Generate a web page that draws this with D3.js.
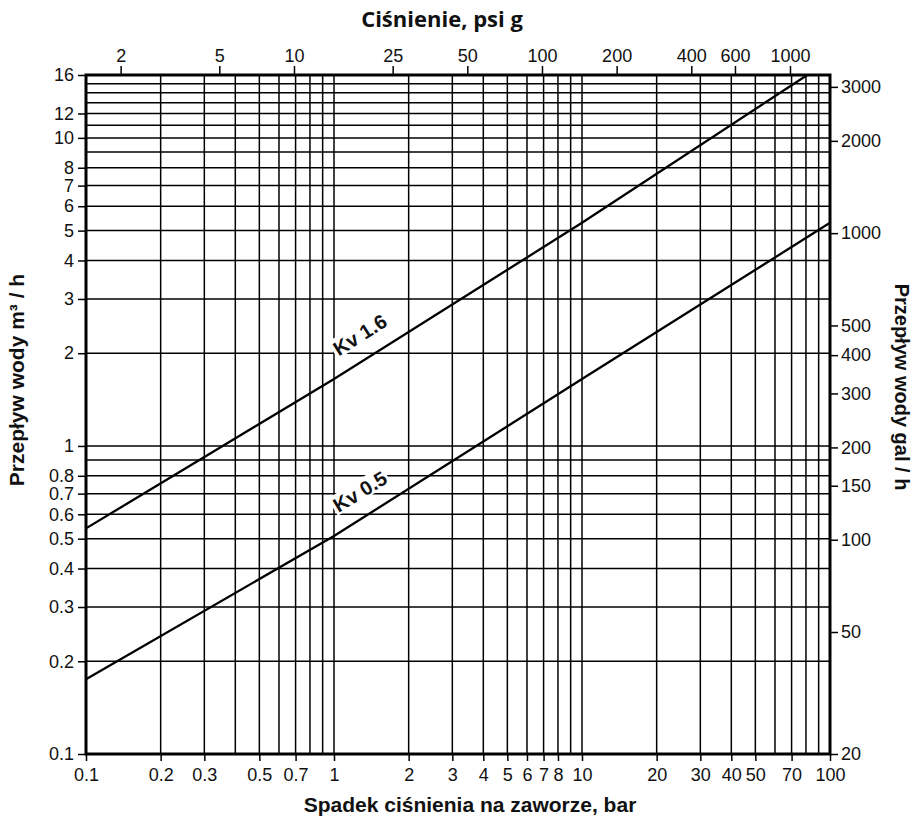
<!DOCTYPE html>
<html>
<head>
<meta charset="utf-8">
<script src="https://cdn.jsdelivr.net/npm/d3@7"></script>
<style>
  body { margin: 0; background: #fff; }
  svg text { font-family: "Liberation Sans", Arial, sans-serif; fill: #111; }
</style>
</head>
<body>
<svg id="chart" width="915" height="818"></svg>
<script>
// bottom axis: pressure drop, bar
const dropTicks = [0.1, 0.2, 0.3, 0.5, 0.7, 1, 2, 3, 4, 5, 6, 7, 8, 10, 20, 30, 40, 50, 70, 100];
// top axis: pressure, psi g
const psiTicks = [2, 5, 10, 25, 50, 100, 200, 400, 600, 1000];
const psiPerBar = 14.5;
// left axis: flow m3/h
const flowTicks = [0.1, 0.2, 0.3, 0.4, 0.5, 0.6, 0.7, 0.8, 1, 2, 3, 4, 5, 6, 7, 8, 10, 12, 16];
const flowGrid = [0.2, 0.3, 0.4, 0.5, 0.6, 0.7, 0.8, 0.9, 1, 2, 3, 4, 5, 6, 7, 8, 9, 10, 11, 12, 13, 14, 15];
// right axis: flow gal/h
const galTicks = [20, 50, 100, 150, 200, 300, 400, 500, 1000, 2000, 3000];

// Kv curves
const seriesNames = ["Kv 1.6", "Kv 0.5"];
const kv16Drop = [0.1, 1, 10, 81];
const kv16Flow = [0.54, 1.65, 5.3, 16];
const kv05Drop = [0.1, 1, 10, 100];
const kv05Flow = [0.175, 0.51, 1.65, 5.3];
const labelDrop = 1.35;

const margin = { top: 75, right: 85, bottom: 64, left: 86 };
const width = 915 - margin.left - margin.right;
const height = 818 - margin.top - margin.bottom;

const svg = d3.select("#chart");
const g = svg.append("g").attr("transform", "translate(" + margin.left + "," + margin.top + ")");

const x = d3.scaleLog().domain([0.1, 100]).range([0, width]);
const xPsi = d3.scaleLog().domain([0.1 * psiPerBar, 100 * psiPerBar]).range([0, width]);
const y = d3.scaleLog().domain([0.1, 16]).range([height, 0]);
const yGal = d3.scaleLog().domain([20, 3280]).range([height, 0]);

// grid
g.append("g").selectAll("line")
  .data(x.ticks().filter(d => d > 0.1 && d < 100))
  .enter().append("line")
  .attr("x1", d => x(d)).attr("x2", d => x(d))
  .attr("y1", 0).attr("y2", height)
  .attr("stroke", "#000").attr("stroke-width", 1.5);

g.append("g").selectAll("line")
  .data(flowGrid)
  .enter().append("line")
  .attr("x1", 0).attr("x2", width)
  .attr("y1", d => y(d)).attr("y2", d => y(d))
  .attr("stroke", "#000").attr("stroke-width", 1.5);

// axes
const fmt = d3.format("~g");
function styleAxis(sel) {
  sel.select(".domain").remove();
  sel.selectAll(".tick line").attr("stroke", "#000").attr("stroke-width", 1.5);
  sel.selectAll("text").attr("font-size", 18).attr("fill", "#111");
}

g.append("g").attr("transform", "translate(0," + height + ")")
  .call(d3.axisBottom(x).tickValues(dropTicks).tickFormat(fmt).tickSize(7).tickPadding(7))
  .call(styleAxis);

g.append("g")
  .call(d3.axisTop(xPsi).tickValues(psiTicks).tickFormat(fmt).tickSize(9).tickPadding(4))
  .call(styleAxis);

g.append("g")
  .call(d3.axisLeft(y).tickValues(flowTicks).tickFormat(fmt).tickSize(8).tickPadding(4))
  .call(styleAxis);

g.append("g").attr("transform", "translate(" + width + ",0)")
  .call(d3.axisRight(yGal).tickValues(galTicks).tickFormat(fmt).tickSize(8).tickPadding(3))
  .call(styleAxis);

// curves
const series = [
  { name: seriesNames[0], drop: kv16Drop, flow: kv16Flow },
  { name: seriesNames[1], drop: kv05Drop, flow: kv05Flow }
];

const line = d3.line().x(d => x(d[0])).y(d => y(d[1]));

series.forEach(s => {
  const pts = d3.zip(s.drop, s.flow);
  const along = d3.scaleLog().domain(s.drop).range(s.flow);
  const px = x(labelDrop), py = y(along(labelDrop));
  const first = pts[0], last = pts[pts.length - 1];
  const angle = Math.atan2(y(last[1]) - y(first[1]), x(last[0]) - x(first[0])) * 180 / Math.PI;

  const lab = g.append("g").attr("transform", "translate(" + px + "," + py + ") rotate(" + angle + ")");
  const bg = lab.append("rect").attr("fill", "#fff");
  const t = lab.append("text")
    .attr("y", -5)
    .attr("text-anchor", "middle")
    .attr("font-size", 20)
    .attr("font-weight", "bold")
    .text(s.name);
  const bb = t.node().getBBox();
  bg.attr("x", bb.x - 2).attr("y", bb.y).attr("width", bb.width + 4).attr("height", bb.height - 2);

  g.append("path")
    .datum(pts)
    .attr("fill", "none")
    .attr("stroke", "#000")
    .attr("stroke-width", 2.3)
    .attr("d", line);
});

// frame
g.append("rect")
  .attr("width", width).attr("height", height)
  .attr("fill", "none").attr("stroke", "#000").attr("stroke-width", 3);

// titles
svg.append("text")
  .attr("x", 442).attr("y", 27)
  .attr("text-anchor", "middle")
  .style("font-family", "'Open Sans', Lato, sans-serif")
  .attr("font-size", 22).attr("font-weight", "bold")
  .text("Ciśnienie, psi g");

svg.append("text")
  .attr("x", 470).attr("y", 812)
  .attr("text-anchor", "middle")
  .attr("font-size", 21).attr("font-weight", "bold")
  .text("Spadek ciśnienia na zaworze, bar");

svg.append("text")
  .attr("transform", "translate(24,380) rotate(-90)")
  .attr("text-anchor", "middle")
  .attr("font-size", 21).attr("font-weight", "bold")
  .text("Przepływ wody m³ / h");

svg.append("text")
  .attr("transform", "translate(895,387) rotate(90)")
  .attr("text-anchor", "middle")
  .attr("font-size", 20).attr("font-weight", "bold")
  .text("Przepływ wody gal / h");
</script>
</body>
</html>
